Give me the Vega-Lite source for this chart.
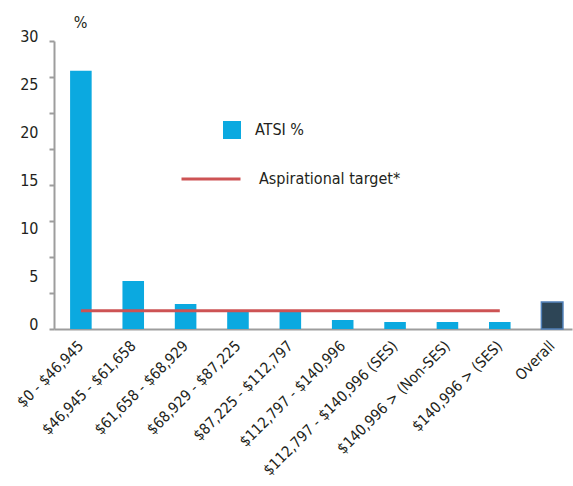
{
  "$schema": "https://vega.github.io/schema/vega-lite/v6.json",
  "autosize": {"type": "none"},
  "padding": {"left": 54, "top": 41, "right": 1, "bottom": 157},
  "width": 518,
  "height": 288,
  "background": "white",
  "config": {
    "font": "DejaVu Sans Condensed",
    "view": {"stroke": null},
    "axis": {"labelColor": "#231f20", "titleColor": "#231f20", "domainColor": "#9d9d9d", "tickColor": "#9d9d9d", "grid": false, "labelFont": "DejaVu Sans Condensed", "titleFont": "DejaVu Sans Condensed"},
    "legend": {"padding": 0, "labelColor": "#231f20", "labelFont": "DejaVu Sans Condensed", "labelFontSize": 16, "title": null, "orient": "none"}
  },
  "datasets": {
    "bands": [
      {"band": "$0 - $46,945", "pct": 26.9, "group": "ATSI %"},
      {"band": "$46,945 - $61,658", "pct": 5.0, "group": "ATSI %"},
      {"band": "$61,658 - $68,929", "pct": 2.6, "group": "ATSI %"},
      {"band": "$68,929 - $87,225", "pct": 1.8, "group": "ATSI %"},
      {"band": "$87,225 - $112,797", "pct": 1.8, "group": "ATSI %"},
      {"band": "$112,797 - $140,996", "pct": 0.94, "group": "ATSI %"},
      {"band": "$112,797 - $140,996 (SES)", "pct": 0.73, "group": "ATSI %"},
      {"band": "$140,996 > (Non-SES)", "pct": 0.73, "group": "ATSI %"},
      {"band": "$140,996 > (SES)", "pct": 0.73, "group": "ATSI %"},
      {"band": "Overall", "pct": 2.8, "group": "Overall"}
    ],
    "target": [
      {"from": "$0 - $46,945", "to": "$140,996 > (SES)", "target": 1.9, "series": "Aspirational target*"}
    ]
  },
  "layer": [
    {
      "data": {"name": "bands"},
      "mark": {"type": "bar"},
      "encoding": {
        "x": {
          "field": "band", "type": "nominal", "sort": null, "title": null,
          "scale": {
            "domain": ["$0 - $46,945", "$46,945 - $61,658", "$61,658 - $68,929", "$68,929 - $87,225", "$87,225 - $112,797", "$112,797 - $140,996", "$112,797 - $140,996 (SES)", "$140,996 > (Non-SES)", "$140,996 > (SES)", "Overall"],
            "paddingInner": 0.588, "paddingOuter": 0.24, "align": 0.64
          },
          "axis": {"labelAngle": -45, "labelAlign": "right", "labelBaseline": "middle", "labelFontSize": 15, "labelLimit": 400, "ticks": false, "labelPadding": 14, "domainWidth": 2, "offset": 0}
        },
        "y": {
          "field": "pct", "type": "quantitative",
          "scale": {"domain": [0, 30], "nice": false},
          "axis": {"orient": "left", "values": [0, 3.75, 7.5, 11.25, 15, 18.75, 22.5, 26.25, 30], "labels": false, "tickSize": 5, "domainWidth": 2, "tickWidth": 2, "title": null}
        },
        "fill": {
          "field": "group", "type": "nominal",
          "scale": {"domain": ["ATSI %", "Overall"], "range": ["#0BA9E0", "#2D4556"]},
          "legend": {"values": ["ATSI %"], "symbolType": "square", "symbolSize": 324, "symbolStrokeWidth": 0, "labelOffset": 14, "legendX": 169, "legendY": 80}
        },
        "stroke": {"condition": {"test": "datum.group === 'Overall'", "value": "#4F7FB8"}, "value": null},
        "strokeWidth": {"condition": {"test": "datum.group === 'Overall'", "value": 1.5}, "value": 0}
      }
    },
    {
      "data": {"name": "target"},
      "mark": {"type": "rule", "strokeWidth": 3, "strokeCap": "butt"},
      "encoding": {
        "x": {"field": "from", "type": "nominal"},
        "x2": {"field": "to"},
        "y": {
          "field": "target", "type": "quantitative",
          "axis": {"orient": "left", "values": [0, 5, 10, 15, 20, 25, 30], "ticks": false, "domain": false, "labelFontSize": 16, "labelPadding": 16, "labelOffset": -5,
                   "title": "%", "titleAngle": 0, "titleFontSize": 16, "titleFontWeight": "normal", "titleX": 26, "titleY": -19, "titleAlign": "center", "titleBaseline": "middle"}
        },
        "stroke": {
          "field": "series", "type": "nominal",
          "scale": {"range": ["#CD5354"]},
          "legend": {"symbolType": "stroke", "symbolSize": 3481, "symbolStrokeWidth": 3, "labelOffset": 17, "legendX": 126, "legendY": 107}
        }
      }
    }
  ],
  "resolve": {"axis": {"y": "independent"}}
}
